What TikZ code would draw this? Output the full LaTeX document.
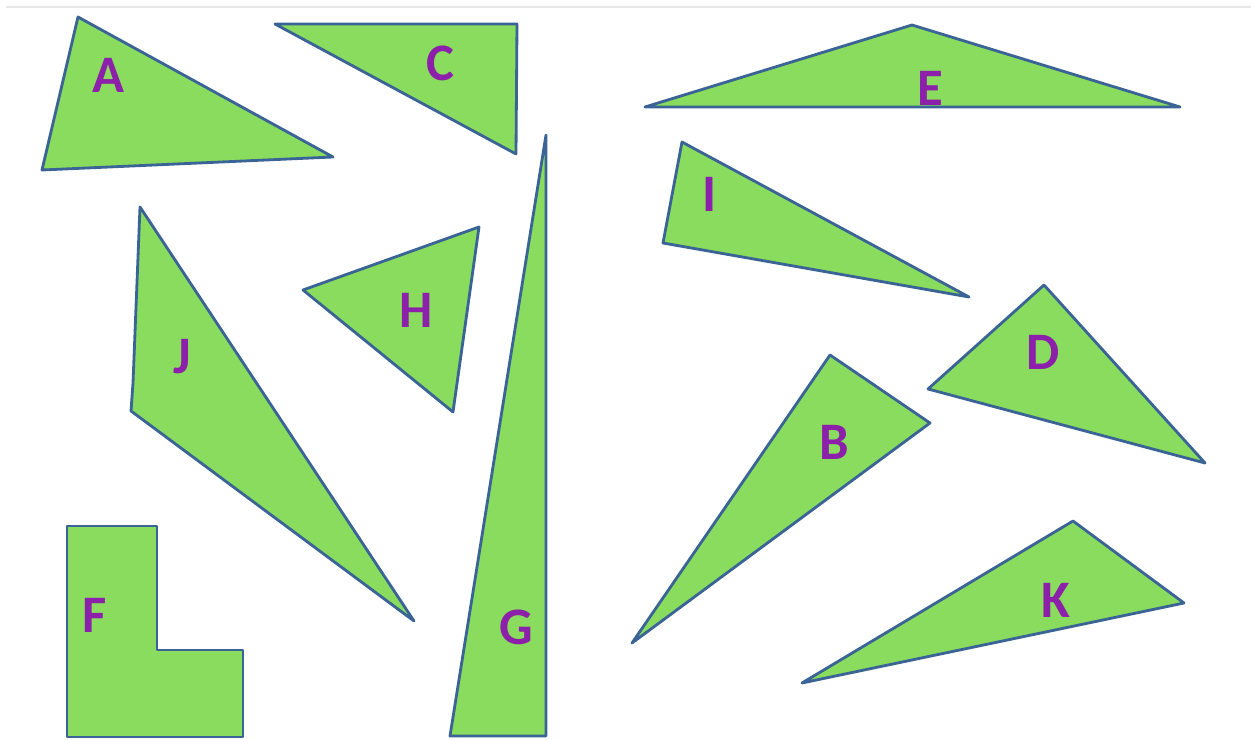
\documentclass[tikz,border=0pt]{standalone}
\usepackage{fontspec}
\setmainfont{Carlito}
\usepackage{tikz}
\definecolor{leafgreen}{RGB}{138,220,94}
\definecolor{edgeblue}{RGB}{58,100,150}
\definecolor{letterpurple}{RGB}{140,32,170}
\definecolor{rulegrey}{RGB}{232,232,232}

\begin{document}
\begin{tikzpicture}[x=0.02cm,y=-0.02cm]
    % Stili per i pezzi e le lettere
    \tikzset{
        piece/.style={
            draw=edgeblue, % Bordo
            fill=leafgreen, % Sfondo
            line width=1.6pt,
            line join=round
        },
        piece_label/.style={
            text=letterpurple,
            font=\fontsize{30}{36}\selectfont\bfseries,
            inner sep=0pt,
            anchor=center
        }
    }

    % Cornice dell'immagine
    \useasboundingbox (0,0) rectangle (1251,740);
    \draw[rulegrey, line width=0.6pt] (6,7) -- (1251,7);

    % Pezzi
    \draw[piece] (78,17) -- (42,170) -- (333,157) -- cycle; % A
    \draw[piece] (275,24) -- (517,24) -- (516,154) -- cycle; % C
    \draw[piece] (645,107) -- (912,25) -- (1180,107) -- cycle; % E
    \draw[piece] (682,142) -- (663,243) -- (969,297) -- cycle; % I
    \draw[piece] (140,207) -- (133,383) -- (131,411) -- (414,621) -- cycle; % J
    \draw[piece] (303,290) -- (479,227) -- (453,412) -- cycle; % H
    \draw[piece] (546,135) -- (450,736) -- (546,736) -- cycle; % G
    \draw[piece] (67,526) -- (157,526) -- (157,650) -- (243,650) -- (243,737) -- (67,737) -- cycle; % F
    \draw[piece] (830,355) -- (930,423) -- (632,643) -- cycle; % B
    \draw[piece] (1044,285) -- (928,389) -- (1205,463) -- cycle; % D
    \draw[piece] (1073,521) -- (1184,603) -- (802,683) -- cycle; % K

    % Lettere
    \node[piece_label] (label_A) at (108,75) {A};
    \node[piece_label] (label_C) at (440,63) {C};
    \node[piece_label] (label_E) at (930,88) {E};
    \node[piece_label] (label_I) at (710,194) {I};
    \node[piece_label] (label_J) at (182,357) {J};
    \node[piece_label] (label_H) at (416,310) {H};
    \node[piece_label] (label_G) at (516,627) {G};
    \node[piece_label] (label_F) at (95,615) {F};
    \node[piece_label] (label_B) at (834,442) {B};
    \node[piece_label] (label_D) at (1043,352) {D};
    \node[piece_label] (label_K) at (1056,600) {K};

\end{tikzpicture}
\end{document}
